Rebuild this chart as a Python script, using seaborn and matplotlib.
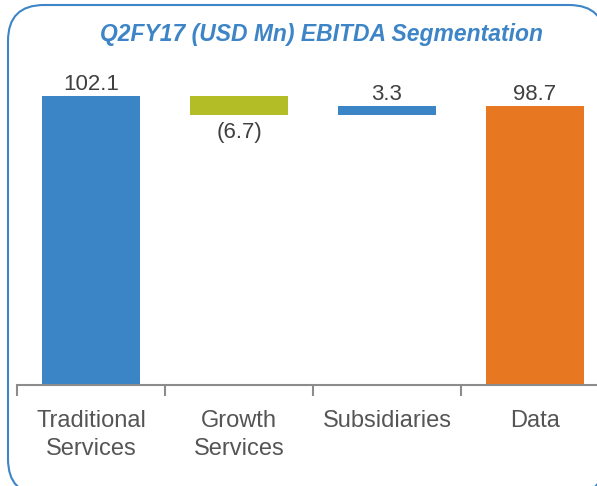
import numpy as np
import pandas as pd
import matplotlib
matplotlib.use("Agg")
import matplotlib.pyplot as plt
from matplotlib.patches import FancyBboxPatch
import seaborn as sns

# Datos del grafico (USD Mn)
categorias = ["Traditional\nServices", "Growth\nServices", "Subsidiaries", "Data"]
valores = [102.1, -6.7, 3.3, 98.7]
es_total = [False, False, False, True]
etiquetas = ["102.1", "(6.7)", "3.3", "98.7"]
colores = ["#3b84c6", "#b3bd26", "#3b84c6", "#e87722"]
titulo = "Q2FY17 (USD Mn) EBITDA Segmentation"

# Base y altura de cada barra (cascada)
bases, alturas = [], []
acumulado = 0.0
for v, tot in zip(valores, es_total):
    if tot:
        bases.append(0.0)
        alturas.append(v)
        acumulado = v
    else:
        bases.append(min(acumulado, acumulado + v))
        alturas.append(abs(v))
        acumulado += v

df = pd.DataFrame({"categoria": categorias, "altura": alturas, "base": bases,
                   "valor": valores, "etiqueta": etiquetas})

sns.set_style("white")
plt.rcParams["font.family"] = ["Liberation Sans", "DejaVu Sans"]

W, H = 597, 486
fig = plt.figure(figsize=(W / 100, H / 100), dpi=100)

# Marco redondeado de fondo
fondo = fig.add_axes([0, 0, 1, 1])
fondo.set_xlim(0, W)
fondo.set_ylim(H, 0)
fondo.axis("off")
fondo.add_patch(FancyBboxPatch((8, 5), 597, 490, boxstyle="round,pad=0,rounding_size=36",
                               facecolor="white", edgecolor="#3d85c6", linewidth=1.5))
fondo.text(321, 35, titulo, ha="center", va="center", fontsize=16.5,
           fontweight="bold", fontstyle="italic", color="#3d85c6")

# Ejes del grafico
y_max = 110
base_px = 385
alto_px = y_max * 2.826
ax = fig.add_axes([17 / W, 1 - base_px / H, 592 / W, alto_px / H])
ax.patch.set_alpha(0)

sns.barplot(data=df, x="categoria", y="altura", bottom=df["base"], width=0.66,
            color=colores[0], saturation=1, ax=ax)
for barra, col in zip(ax.patches, colores):
    barra.set_facecolor(col)
    barra.set_edgecolor("none")

for i, fila in df.iterrows():
    if fila["valor"] < 0:
        ax.annotate(fila["etiqueta"], (i, fila["base"]), xytext=(0, -7),
                    textcoords="offset pixels", ha="center", va="top",
                    fontsize=16, color="#404040")
    else:
        ax.annotate(fila["etiqueta"], (i, fila["base"] + fila["altura"]), xytext=(0, 1),
                    textcoords="offset pixels", ha="center", va="bottom",
                    fontsize=16, color="#404040")

ax.set_xlim(-0.5, 3.5)
ax.set_ylim(0, y_max)
ax.set_xlabel("")
ax.set_ylabel("")
ax.set_yticks([])
ax.set_xticks(np.arange(len(categorias)))
ax.set_xticklabels(categorias, fontsize=17, color="#555555", linespacing=1.35)
ax.set_xticks(np.arange(-0.5, len(categorias), 1), minor=True)
ax.tick_params(axis="x", which="major", bottom=True, length=0, pad=18)
ax.tick_params(axis="x", which="minor", bottom=True, length=8, width=1.5,
               color="#8c8c8c", direction="out")
for lado in ["top", "right", "left"]:
    ax.spines[lado].set_visible(False)
ax.spines["bottom"].set_color("#8c8c8c")
ax.spines["bottom"].set_linewidth(1.5)

fig.savefig("out.png", dpi=100)
plt.close(fig)
